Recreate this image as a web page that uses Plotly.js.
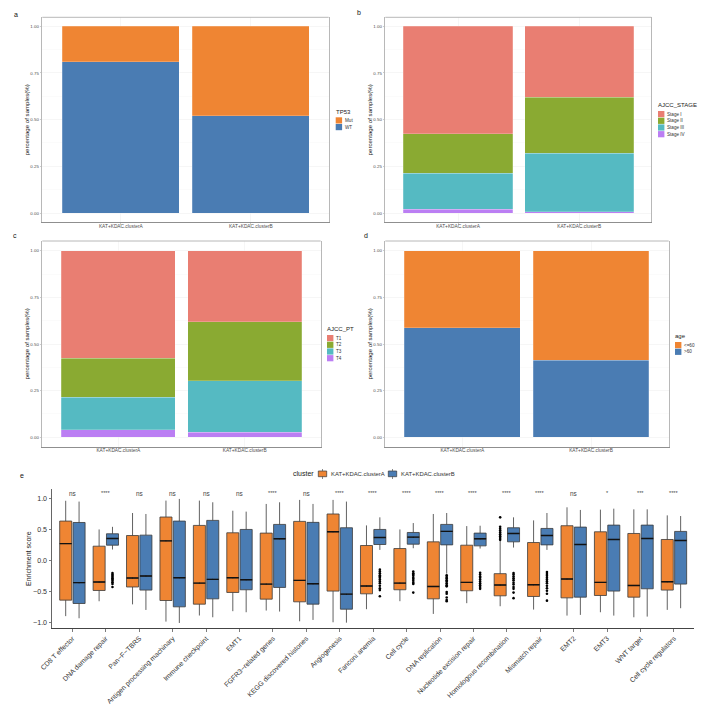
<!DOCTYPE html>
<html>
<head>
<meta charset="utf-8">
<script src="https://cdn.plot.ly/plotly-3.0.1.min.js"></script>
<style>
  html, body { margin: 0; padding: 0; background: #fff; }
  #graph { opacity: 0.999; }
</style>
</head>
<body>
<div id="graph" style="width:709px;height:715px;"></div>
<script>
var W = 709, H = 715;

// stacked bar panels
var clusters = ['KAT+KDAC.clusterA', 'KAT+KDAC.clusterB'];
var tp53Wt = [0.81, 0.52];
var tp53Mut = [0.19, 0.48];
var stageI = [0.575, 0.38];
var stageII = [0.213, 0.30];
var stageIII = [0.192, 0.312];
var stageIV = [0.02, 0.008];
var pt1 = [0.575, 0.38];
var pt2 = [0.211, 0.318];
var pt3 = [0.174, 0.275];
var pt4 = [0.04, 0.027];
var ageOld = [0.588, 0.413];
var ageYoung = [0.412, 0.587];

// box panel
var pathways = ['CD8 T effector', 'DNA damage repair', 'Pan\u2212F\u2212TBRS', 'Antigen processing machinary',
  'Immune checkpoint', 'EMT1', 'FGFR3\u2212related genes', 'KEGG discovered histones', 'Angiogenesis',
  'Fanconi anemia', 'Cell cycle', 'DNA replication', 'Nucleotide excision repair', 'Homologous recombination',
  'Mismatch repair', 'EMT2', 'EMT3', 'WNT target', 'Cell cycle regulators'];
var signif = ['ns', '****', 'ns', 'ns', 'ns', 'ns', '****', 'ns', '****', '****', '****', '****', '****', '****', '****', 'ns', '*', '***', '****'];

var aUpper = [0.97, 0.508, 0.773, 0.973, 0.973, 0.81, 0.919, 0.984, 0.984, 0.573, 0.508, 0.757, 0.562, 0.335, 0.654, 0.865, 0.827, 0.832, 0.735];
var aQ3 = [0.643, 0.238, 0.41, 0.708, 0.573, 0.454, 0.449, 0.638, 0.757, 0.249, 0.2, 0.308, 0.254, -0.205, 0.297, 0.568, 0.47, 0.443, 0.346];
var aMedian = [0.28, -0.34, -0.276, 0.324, -0.357, -0.27, -0.373, -0.314, 0.47, -0.405, -0.357, -0.411, -0.346, -0.389, -0.384, -0.292, -0.346, -0.395, -0.335];
var aQ1 = [-0.632, -0.476, -0.42, -0.638, -0.697, -0.508, -0.616, -0.659, -0.486, -0.53, -0.465, -0.611, -0.481, -0.562, -0.573, -0.595, -0.557, -0.584, -0.47];
var aLower = [-0.89, -0.65, -0.7, -0.978, -0.88, -0.81, -0.8, -0.973, -0.989, -0.778, -0.649, -0.854, -0.681, -0.73, -0.784, -0.881, -0.827, -0.908, -0.789];

var bUpper = [0.957, 0.55, 0.757, 1.0, 0.946, 0.795, 0.946, 0.919, 0.957, 0.703, 0.611, 0.773, 0.568, 0.703, 0.773, 0.822, 0.843, 0.832, 0.724];
var bQ3 = [0.62, 0.438, 0.416, 0.643, 0.654, 0.508, 0.589, 0.622, 0.535, 0.508, 0.459, 0.589, 0.449, 0.535, 0.524, 0.546, 0.578, 0.578, 0.476];
var bMedian = [-0.35, 0.362, -0.243, -0.27, -0.297, -0.303, 0.357, -0.368, -0.535, 0.378, 0.384, 0.476, 0.357, 0.443, 0.41, 0.265, 0.346, 0.362, 0.33];
var bQ1 = [-0.686, 0.254, -0.47, -0.74, -0.611, -0.465, -0.427, -0.697, -0.778, 0.265, 0.27, 0.259, 0.243, 0.308, 0.259, -0.584, -0.486, -0.449, -0.373];
var bLower = [-0.924, 0.184, -0.79, -1.0, -0.908, -0.827, -0.816, -0.951, -0.995, 0.178, 0.205, -0.205, 0.2, 0.216, 0.178, -0.87, -0.881, -0.897, -0.762];

// outliers, only the clusters that have them
var outDnaRepairB = [-0.195, -0.22, -0.24, -0.26, -0.28, -0.3, -0.32, -0.345, -0.37, -0.42];
var outFanconiB = [-0.14, -0.17, -0.2, -0.23, -0.25, -0.27, -0.3, -0.33, -0.36, -0.4, -0.44, -0.47, -0.57];
var outCellCycleB = [-0.17, -0.2, -0.22, -0.24, -0.27, -0.29, -0.32, -0.35, -0.37, -0.51];
var outDnaReplB = [-0.23, -0.26, -0.28, -0.31, -0.33, -0.36, -0.39, -0.41, -0.5, -0.53, -0.59, -0.63, -0.65];
var outNerB = [-0.19, -0.22, -0.25, -0.27, -0.3, -0.33, -0.36, -0.39, -0.42, -0.45];
var outHrA = [0.703, 0.55, 0.52, 0.49, 0.46, 0.43, 0.4, 0.37, 0.34];
var outHrB = [-0.195, -0.22, -0.25, -0.28, -0.31, -0.35, -0.38, -0.42, -0.45, -0.51, -0.6];
var outMmrB = [-0.18, -0.21, -0.24, -0.27, -0.3, -0.33, -0.36, -0.4, -0.44, -0.48, -0.53, -0.64];

var orange = '#EF8533', blue = '#4A7CB3';
var salmon = '#E97E72', green = '#8AAA32', teal = '#55BAC2', purple = '#BB7EF3';
var darkLine = '#3a3a3a';

function px(x) { return x / W; }
function py(y) { return 1 - y / H; }

var data = [];

function addBar(n, y, color) {
  data.push({
    type: 'bar', x: clusters, y: y, width: 0.9, xaxis: 'x' + n, yaxis: 'y' + n,
    marker: { color: color, line: { color: 'rgba(255,255,255,0.35)', width: 0.6 } },
    showlegend: false, hoverinfo: 'skip'
  });
}
addBar(1, tp53Wt, blue);
addBar(1, tp53Mut, orange);
addBar(2, stageIV, purple);
addBar(2, stageIII, teal);
addBar(2, stageII, green);
addBar(2, stageI, salmon);
addBar(3, pt4, purple);
addBar(3, pt3, teal);
addBar(3, pt2, green);
addBar(3, pt1, salmon);
addBar(4, ageOld, blue);
addBar(4, ageYoung, orange);

var idx = pathways.map(function (p, i) { return i + 1; });
var dodge = 0.2;

function addBox(shift, up, q3, med, q1, low, color) {
  var xs = idx.map(function (i) { return i + shift; });
  data.push({
    type: 'box', x: xs, q1: q1, median: med, q3: q3, lowerfence: low, upperfence: up,
    width: 0.36, whiskerwidth: 0, boxpoints: false, fillcolor: color,
    line: { color: darkLine, width: 0.8 }, xaxis: 'x5', yaxis: 'y5', showlegend: false, hoverinfo: 'skip'
  });
  // thick median bar
  data.push({
    type: 'scatter', mode: 'markers', x: xs, y: med, xaxis: 'x5', yaxis: 'y5',
    marker: { size: 1, color: '#111' },
    error_x: { type: 'constant', value: 0.18, width: 0, thickness: 1.4, color: '#111' },
    showlegend: false, hoverinfo: 'skip'
  });
}
addBox(-dodge, aUpper, aQ3, aMedian, aQ1, aLower, orange);
addBox(dodge, bUpper, bQ3, bMedian, bQ1, bLower, blue);

function addOutliers(pos, vals) {
  data.push({
    type: 'scatter', mode: 'markers', x: vals.map(function () { return pos; }), y: vals,
    xaxis: 'x5', yaxis: 'y5', marker: { size: 2.6, color: '#000' }, showlegend: false, hoverinfo: 'skip'
  });
}
addOutliers(2 + dodge, outDnaRepairB);
addOutliers(10 + dodge, outFanconiB);
addOutliers(11 + dodge, outCellCycleB);
addOutliers(12 + dodge, outDnaReplB);
addOutliers(13 + dodge, outNerB);
addOutliers(14 - dodge, outHrA);
addOutliers(14 + dodge, outHrB);
addOutliers(15 + dodge, outMmrB);

var layout = {
  width: W, height: H, margin: { l: 0, r: 0, t: 0, b: 0 },
  paper_bgcolor: '#fff', plot_bgcolor: '#fff', barmode: 'stack', showlegend: false,
  font: { family: 'Liberation Sans, Arial, sans-serif', color: '#333' },
  annotations: [], shapes: []
};

function barAxes(n, left, right, top, bottom, yOne, yZero, barA, barB) {
  var unit = barB - barA;
  var perVal = yZero - yOne;
  layout['xaxis' + n] = {
    domain: [px(left), px(right)], anchor: 'y' + n, type: 'category',
    range: [(left - barA) / unit, 1 + (right - barB) / unit],
    showline: true, linecolor: '#8f8f8f', linewidth: 1,
    showgrid: true, gridcolor: '#f0f0f0', gridwidth: 0.6, zeroline: false,
    ticks: 'outside', ticklen: 1.5, tickwidth: 0.5, tickcolor: '#999', ticklabelstandoff: -3,
    tickfont: { size: 4.8, color: '#4d4d4d' }
  };
  layout['yaxis' + n] = {
    domain: [py(bottom), py(top)], anchor: 'x' + n,
    range: [(yZero - bottom) / perVal, 1 + (yOne - top) / perVal],
    tickvals: [0, 0.25, 0.5, 0.75, 1], ticktext: ['0.00', '0.25', '0.50', '0.75', '1.00'],
    mirror: true, showline: true, linecolor: '#b8b8b8', linewidth: 1,
    showgrid: true, gridcolor: '#f0f0f0', gridwidth: 0.6, zeroline: false,
    minor: { tickvals: [0.125, 0.375, 0.625, 0.875], showgrid: true, gridcolor: '#f6f6f6', gridwidth: 0.4, ticks: '' },
    ticks: 'outside', ticklen: 1.5, tickwidth: 0.5, tickcolor: '#999',
    tickfont: { size: 4.4, color: '#4d4d4d' },
    title: { text: 'percentage of samples(%)', font: { size: 6.1, color: '#222' }, standoff: 0 }
  };
  // top edge of the panel frame
  layout.shapes.push({
    type: 'line', xref: 'paper', yref: 'paper', x0: px(left), x1: px(right), y0: py(top), y1: py(top),
    line: { color: '#b8b8b8', width: 1 }
  });
}
barAxes(1, 42.3, 328.7, 17.3, 222.3, 26.3, 213, 120.8, 250.8);
barAxes(2, 385.3, 651.3, 17.3, 222.3, 26.3, 213, 458, 579.2);
barAxes(3, 42.3, 320.7, 241, 446.7, 250.7, 437.3, 118.3, 244.7);
barAxes(4, 385.3, 668.7, 241, 446.7, 250.7, 437.3, 462.3, 591);

layout.xaxis5 = {
  domain: [px(52), px(694)], anchor: 'y5', range: [0.39, 19.6],
  tickvals: idx, ticktext: pathways, tickangle: -45,
  showline: true, linecolor: '#444', linewidth: 1, showgrid: false, zeroline: false,
  ticks: 'outside', ticklen: 2.5, tickwidth: 0.7, tickcolor: '#444',
  tickfont: { size: 6.9, color: '#333' }
};
layout.yaxis5 = {
  domain: [py(628.3), py(489)], anchor: 'x5', range: [-1.086, 1.16],
  tickvals: [-1, -0.5, 0, 0.5, 1], ticktext: ['\u22121.0', '\u22120.5', '0.0', '0.5', '1.0'],
  showline: true, linecolor: '#666', linewidth: 1, showgrid: false, zeroline: false,
  ticks: 'outside', ticklen: 2.5, tickwidth: 0.7, tickcolor: '#444',
  tickfont: { size: 7.1, color: '#333' },
  title: { text: 'Enrichment score', font: { size: 7, color: '#222' }, standoff: 0 }
};

signif.forEach(function (s, i) {
  layout.annotations.push({
    xref: 'x5', yref: 'y5', x: idx[i], y: s === 'ns' ? 1.085 : 1.1, text: s, showarrow: false,
    font: { size: s === 'ns' ? 6.4 : 5.6, color: '#444' }
  });
});

// annotations carry a small inner pad, hence the -2
function label(x, y, text, size, color) {
  layout.annotations.push({
    xref: 'paper', yref: 'paper', x: px(x - 2), y: py(y), xanchor: 'left', yanchor: 'middle',
    text: text, showarrow: false, font: { size: size, color: color || '#222' }
  });
}

function keyBox(x0, y0, x1, y1, color) {
  layout.shapes.push({
    type: 'rect', xref: 'paper', yref: 'paper', x0: px(x0), x1: px(x1), y0: py(y0), y1: py(y1),
    fillcolor: color, line: { width: 0 }
  });
}

function legend(title, names, colors, x, yTitle, yFirst) {
  label(x, yTitle, title, 6);
  names.forEach(function (nm, i) {
    var y = yFirst + i * 6.7;
    keyBox(x, y, x + 6.4, y + 6.2, colors[i]);
    label(x + 9.2, y + 3.1, nm, 4.6, '#333');
  });
}
legend('TP53', ['Mut', 'WT'], [orange, blue], 335.7, 112, 117.3);
legend('AJCC_STAGE', ['Stage I', 'Stage II', 'Stage III', 'Stage IV'], [salmon, green, teal, purple], 658, 105, 111);
legend('AJCC_PT', ['T1', 'T2', 'T3', 'T4'], [salmon, green, teal, purple], 327, 329.3, 335);
legend('age', ['<=60', '>60'], [orange, blue], 675, 336.3, 342);

// box panel legend
label(293, 474, 'cluster', 7);
[[318.3, orange, clusters[0]], [388.3, blue, clusters[1]]].forEach(function (k) {
  layout.shapes.push({
    type: 'line', xref: 'paper', yref: 'paper', x0: px(k[0] + 4.2), x1: px(k[0] + 4.2), y0: py(469), y1: py(479),
    line: { color: darkLine, width: 0.6 }
  });
  layout.shapes.push({
    type: 'rect', xref: 'paper', yref: 'paper', x0: px(k[0]), x1: px(k[0] + 8.4), y0: py(471), y1: py(476.7),
    fillcolor: k[1], line: { color: darkLine, width: 0.7 }
  });
  label(k[0] + 12.6, 474, k[2], 5.9, '#333');
});

// panel letters
label(14, 15, 'a', 7, '#111');
label(357, 12.5, 'b', 7, '#111');
label(13, 235.5, 'c', 7, '#111');
label(364, 235.5, 'd', 7, '#111');
label(20, 475.5, 'e', 7, '#111');

Plotly.newPlot('graph', data, layout, { displayModeBar: false, staticPlot: true });
</script>
</body>
</html>
